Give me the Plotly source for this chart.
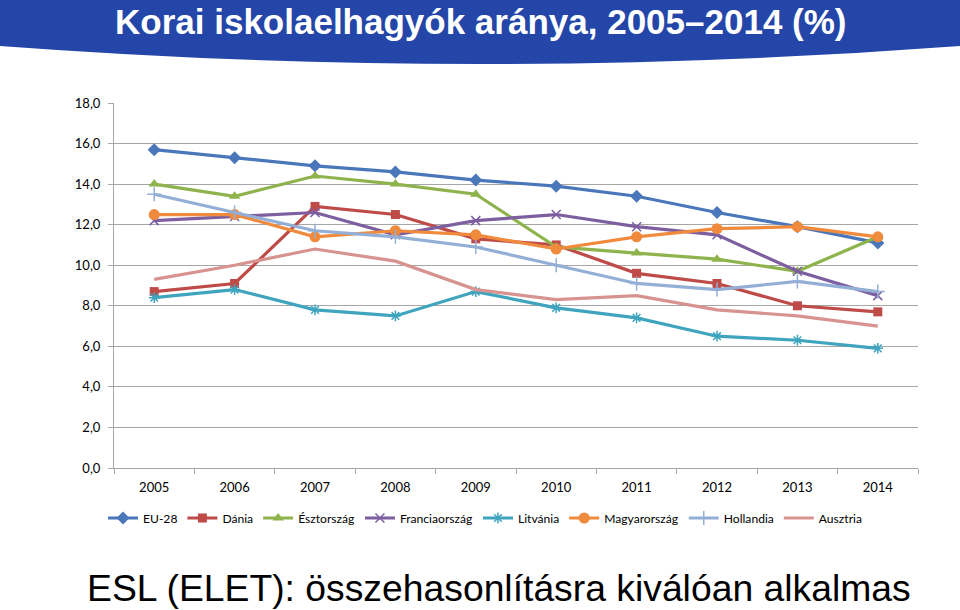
import plotly.graph_objects as go

years = ["2005", "2006", "2007", "2008", "2009", "2010", "2011", "2012", "2013", "2014"]
eu28 = [15.7, 15.3, 14.9, 14.6, 14.2, 13.9, 13.4, 12.6, 11.9, 11.1]
dania = [8.7, 9.1, 12.9, 12.5, 11.3, 11.0, 9.6, 9.1, 8.0, 7.7]
esztorszag = [14.0, 13.4, 14.4, 14.0, 13.5, 10.9, 10.6, 10.3, 9.7, 11.4]
franciaorszag = [12.2, 12.4, 12.6, 11.5, 12.2, 12.5, 11.9, 11.5, 9.7, 8.5]
litvania = [8.4, 8.8, 7.8, 7.5, 8.7, 7.9, 7.4, 6.5, 6.3, 5.9]
magyarorszag = [12.5, 12.5, 11.4, 11.7, 11.5, 10.8, 11.4, 11.8, 11.9, 11.4]
hollandia = [13.5, 12.6, 11.7, 11.4, 10.9, 10.0, 9.1, 8.8, 9.2, 8.7]
ausztria = [9.3, 10.0, 10.8, 10.2, 8.8, 8.3, 8.5, 7.8, 7.5, 7.0]

y_ticks = [0, 2, 4, 6, 8, 10, 12, 14, 16, 18]
y_labels = ["0,0", "2,0", "4,0", "6,0", "8,0", "10,0", "12,0", "14,0", "16,0", "18,0"]

title_text = "Korai iskolaelhagyók aránya, 2005–2014 (%)"
bottom_text = "ESL (ELET): összehasonlításra kiválóan alkalmas"

series = [
    ("EU-28", eu28, "#4A76BA", "diamond", 10),
    ("Dánia", dania, "#BE4B48", "square", 9),
    ("Észtország", esztorszag, "#8EB34D", "triangle-up", 10),
    ("Franciaország", franciaorszag, "#7D5FA0", "x-thin", 9),
    ("Litvánia", litvania, "#3FA4BE", "asterisk", 9),
    ("Magyarország", magyarorszag, "#F08A3C", "circle", 11),
    ("Hollandia", hollandia, "#93AFD6", "cross-thin", 10),
    ("Ausztria", ausztria, "#D7938F", None, 0),
]

W, H = 960, 610
L, R, T, B = 114, 42, 103, 142
pw, ph = W - L - R, H - T - B

fig = go.Figure()
for name, vals, col, sym, size in series:
    if sym is None:
        fig.add_trace(go.Scatter(x=years, y=vals, name=name, mode="lines",
                                 line=dict(color=col, width=3.2)))
    else:
        thin = sym in ("x-thin", "cross-thin", "asterisk")
        fig.add_trace(go.Scatter(
            x=years, y=vals, name=name, mode="lines+markers",
            line=dict(color=col, width=3.2),
            marker=dict(symbol=sym, size=size, color=col,
                        line=dict(color=col, width=1.5 if thin else 0))))

def px(x):
    return (x - L) / pw

def py(y):
    return (H - B - y) / ph

path = (f"M {px(0)},{py(0)} L {px(960)},{py(0)} L {px(960)},{py(46)} "
        f"Q {px(480)},{py(82)} {px(0)},{py(46)} Z")

fig.update_layout(
    width=W, height=H,
    margin=dict(l=L, r=R, t=T, b=B),
    paper_bgcolor="white", plot_bgcolor="white",
    font=dict(family="Lato, Liberation Sans, sans-serif", size=12, color="#000000"),
    shapes=[dict(type="path", path=path, xref="paper", yref="paper",
                 fillcolor="#2446A8", line=dict(width=0), layer="below")],
    annotations=[
        dict(text=f"<b>{title_text}</b>", x=px(481), y=py(21), xref="paper", yref="paper",
             showarrow=False, xanchor="center", yanchor="middle",
             font=dict(family="Liberation Sans", size=35, color="white")),
        dict(text=bottom_text, x=px(499), y=py(588), xref="paper", yref="paper",
             showarrow=False, xanchor="center", yanchor="middle",
             font=dict(family="Liberation Sans", size=37.3, color="black")),
    ],
    xaxis=dict(type="category", range=[-0.5, 9.5], showgrid=False,
               showline=True, linecolor="#A6A6A6", linewidth=1,
               ticks="outside", tickson="boundaries", ticklen=5, tickcolor="#A6A6A6",
               ticklabelstandoff=7,
               tickfont=dict(size=13)),
    yaxis=dict(range=[0, 18], tickvals=y_ticks, ticktext=y_labels,
               showgrid=True, gridcolor="#A6A6A6", gridwidth=1,
               showline=True, linecolor="#A6A6A6", linewidth=1,
               ticks="outside", ticklen=5, tickcolor="#A6A6A6",
               ticklabelstandoff=5,
               zeroline=False, tickfont=dict(size=13)),
    legend=dict(orientation="h", x=px(485), xanchor="center", y=py(518), yanchor="middle",
                font=dict(size=12.1), itemwidth=30, tracegroupgap=0,
                bgcolor="rgba(0,0,0,0)"),
    showlegend=True,
)

fig.write_html("out.html")
